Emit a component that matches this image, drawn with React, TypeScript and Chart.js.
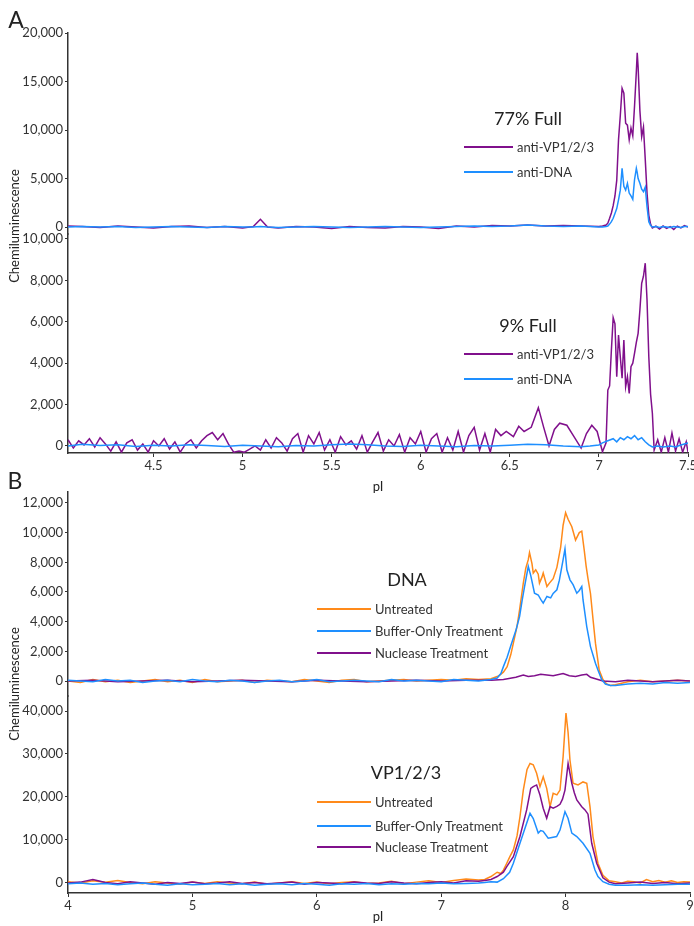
import React, { useEffect, useRef } from "react";
import { Chart, registerables } from "chart.js";

Chart.register(...registerables);

const FONT = "Lato, 'Noto Sans', sans-serif";
const PURPLE = "#80108c";
const BLUE = "#1e8fff";
const ORANGE = "#ff8a1a";
const AXIS = "#333333";
const W = 694;
const H = 926;
const X_AXIS_H = 22;

// ---------- Panel A (top): 77% Full ----------
const aTopX = [4.02, 4.1, 4.2, 4.3, 4.4, 4.5, 4.6, 4.7, 4.8, 4.9, 5.0, 5.06, 5.1, 5.14, 5.2, 5.3, 5.4, 5.5, 5.6, 5.7, 5.8, 5.9, 6.0, 6.1, 6.2, 6.3, 6.4, 6.5, 6.6, 6.7, 6.8, 6.9, 7.0,
  7.02, 7.04, 7.05, 7.06, 7.07, 7.08, 7.09, 7.10, 7.11, 7.12, 7.13, 7.14, 7.15, 7.16, 7.17, 7.18, 7.19, 7.20, 7.21, 7.215, 7.22, 7.23, 7.24, 7.25, 7.26, 7.27, 7.28, 7.29, 7.30, 7.32, 7.34, 7.36, 7.38, 7.40, 7.42, 7.44, 7.46, 7.48, 7.50];
const aTopVp = [100, 50, -50, 100, 0, -100, 50, 100, -50, 50, -100, 50, 800, 0, -100, 50, 0, -150, 50, -50, -100, 50, 0, -150, 100, 0, 150, 100, 200, 100, 150, 100, 50,
  100, 200, 400, 900, 1440, 2200, 3200, 4800, 9000, 11500, 14300, 13800, 10700, 10500, 9000, 10200, 9400, 12500, 16000, 17970, 16500, 12000, 9300, 10300, 7000, 3500, 1200, 300, -100, 100, -200, 100, -150, 50, -250, 100, -100, 150, 0];
const aTopDna = [0, 50, 0, 50, -50, 0, 50, 0, -50, 50, 0, 0, 50, 0, -50, 0, 50, 0, -50, 0, 50, 0, -50, 0, 50, 100, 50, 100, 200, 100, 50, 100, 0,
  0, 50, 100, 300, 550, 900, 1400, 1900, 2800, 3800, 6050, 4200, 3800, 4500, 3500, 3200, 2850, 4900, 6050, 5600, 5000, 4500, 3900, 3650, 4100, 2100, 550, 150, 0, 50, -50, 50, 0, -50, 50, 0, -50, 50, 50];

// ---------- Panel A (bottom): 9% Full ----------
const aBotVpX = [4.02, 4.05, 4.08, 4.11, 4.14, 4.17, 4.20, 4.23, 4.26, 4.29, 4.32, 4.35, 4.38, 4.41, 4.44, 4.47, 4.50, 4.53, 4.56, 4.59,
  4.62, 4.65, 4.68, 4.71, 4.74, 4.77, 4.80, 4.83, 4.86, 4.89, 4.92, 4.95, 4.98, 5.01, 5.04, 5.07, 5.10, 5.13, 5.16, 5.19,
  5.22, 5.25, 5.28, 5.31, 5.34, 5.37, 5.40, 5.43, 5.46, 5.49, 5.52, 5.55, 5.58, 5.61, 5.64, 5.67, 5.70, 5.73, 5.76, 5.79,
  5.82, 5.85, 5.88, 5.91, 5.94, 5.97, 6.00, 6.03, 6.06, 6.09, 6.12, 6.15, 6.18, 6.21, 6.24, 6.27, 6.30, 6.33, 6.36, 6.39,
  6.42, 6.45, 6.48, 6.52, 6.55, 6.58, 6.62, 6.66, 6.69, 6.72, 6.75, 6.78, 6.82, 6.86, 6.90, 6.93, 6.96, 6.99, 7.02,
  7.04, 7.05, 7.06, 7.07, 7.08, 7.09, 7.10, 7.11, 7.12, 7.13, 7.14, 7.15, 7.16, 7.17, 7.18, 7.19, 7.20, 7.21, 7.22, 7.23, 7.24, 7.25, 7.26, 7.27, 7.28, 7.29, 7.30, 7.31,
  7.33, 7.35, 7.37, 7.39, 7.41, 7.43, 7.45, 7.47, 7.49, 7.50];
const aBotVp = [300, -100, 250, 50, 350, -50, 400, 100, -250, 200, -300, 150, 300, -200, 100, -300, 250, 0, 350, -150,
  200, -300, 100, 300, -100, 250, 500, 650, 300, 600, 100, -300, -250, -300, -150, 0, -200, 300, -100, 400,
  150, -250, 350, 600, -300, 500, 100, 650, -200, 300, -300, 450, 50, 250, -150, 500, -300, 200, 650, -250,
  300, 0, 550, -300, 400, 100, 700, -300, 350, 600, -300, 400, -200, 700, -300, 500, 900, -200, 600, -300,
  800, 500, 700, 450, 950, 700, 900, 1850, 900, 0, 800, 1100, 1000, 450, -100, 600, 1000, 700, -280,
  150, 2700, 2900, 4640, 6200, 5900, 3350, 5360, 4300, 3270, 5120, 2860, 3350, 2540, 3830, 4000, 4480, 5000, 5440, 6570, 7860, 8200, 8830, 7050, 4310, 2500, 1580, -200,
  300, -300, 400, -300, 630, -250, 350, -300, 200, -300];
const aBotDnaX = [4.02, 4.1, 4.2, 4.3, 4.4, 4.5, 4.6, 4.7, 4.8, 4.9, 5.0, 5.1, 5.2, 5.3, 5.4, 5.5, 5.6, 5.7, 5.8, 5.9, 6.0, 6.1, 6.2, 6.3, 6.4, 6.5, 6.6, 6.7, 6.8, 6.9,
  6.95, 7.0, 7.02, 7.05, 7.08, 7.1, 7.12, 7.14, 7.16, 7.18, 7.2, 7.22, 7.24, 7.26, 7.28, 7.3, 7.33, 7.36, 7.4, 7.43, 7.46, 7.5];
const aBotDna = [0, 80, 20, 60, -20, 40, 0, 60, 20, -20, 40, 0, -40, 20, 0, 60, 100, 60, 0, -20, 40, 0, -40, 20, 0, 40, 80, 60, 0, -40,
  0, 50, 150, 250, 350, 200, 400, 300, 450, 350, 500, 300, 400, 200, 50, -50, 0, -50, 0, -50, 50, 150];

// ---------- Panel B (top): DNA ----------
const bTopUntX = [4.0, 4.1, 4.2, 4.3, 4.4, 4.5, 4.6, 4.7, 4.8, 4.9, 5.0, 5.1, 5.2, 5.3, 5.4, 5.5, 5.6, 5.7, 5.8, 5.9, 6.0, 6.1, 6.2, 6.3, 6.4, 6.5, 6.6, 6.7, 6.8, 6.9, 7.0, 7.1, 7.2, 7.3, 7.4,
  7.45, 7.47, 7.50, 7.53, 7.56, 7.58, 7.61, 7.63, 7.66, 7.68, 7.70, 7.71, 7.73, 7.74, 7.76, 7.78, 7.79, 7.81, 7.82, 7.85, 7.87, 7.90, 7.93, 7.96, 7.98,
  8.00, 8.02, 8.05, 8.08, 8.11, 8.13, 8.15, 8.165, 8.18, 8.20, 8.22, 8.24, 8.27, 8.30, 8.33, 8.36, 8.40, 8.45, 8.50, 8.60, 8.70, 8.80, 8.90, 9.00];
const bTopUnt = [0, -100, 100, -50, 50, -100, 0, 100, -50, 50, -100, 100, -50, 0, 50, -100, 50, 0, -50, 100, 0, -100, 50, 100, -50, 0, 50, 100, 0, 50, 100, 50, 150, 100, 150,
  300, 400, 600, 970, 1800, 2550, 3700, 4800, 6600, 7600, 8180, 8650, 7900, 7280, 7500, 7200, 6600, 7000, 7280, 6370, 6600, 6900, 7660, 9000, 10500,
  11350, 10900, 10400, 9500, 10000, 10100, 8800, 7750, 6900, 5900, 4200, 2550, 740, 100, -200, -300, -250, -150, -50, 50, -50, 0, 50, 0];
const bTopBufX = [4.0, 4.1, 4.2, 4.3, 4.4, 4.5, 4.6, 4.7, 4.8, 4.9, 5.0, 5.1, 5.2, 5.3, 5.4, 5.5, 5.6, 5.7, 5.8, 5.9, 6.0, 6.1, 6.2, 6.3, 6.4, 6.5, 6.6, 6.7, 6.8, 6.9, 7.0, 7.1, 7.2, 7.3, 7.4,
  7.45, 7.48, 7.50, 7.53, 7.56, 7.60, 7.63, 7.65, 7.67, 7.70, 7.72, 7.75, 7.78, 7.80, 7.82, 7.85, 7.88, 7.90, 7.93, 7.95, 7.98, 7.995,
  8.01, 8.035, 8.06, 8.09, 8.11, 8.13, 8.14, 8.17, 8.20, 8.24, 8.26, 8.29, 8.32, 8.36, 8.40, 8.45, 8.50, 8.60, 8.70, 8.80, 8.90, 9.00];
const bTopBuf = [50, 0, -50, 100, 0, 50, -100, 0, 50, -50, 100, 0, -50, 50, 0, -100, 0, 50, -50, 0, 100, -50, 0, 50, 0, -50, 100, 0, 50, 0, -50, 100, 50, 0, 100,
  200, 500, 970, 1600, 2400, 3400, 4350, 5400, 6370, 7720, 7100, 5920, 5800, 5500, 5250, 5700, 5600, 5900, 6150, 6800, 8180, 8900,
  7500, 6820, 6500, 5920, 6100, 6370, 5480, 3670, 2320, 1200, 740, 100, -200, -300, -300, -250, -200, -150, -200, -100, -150, -100];
const bTopNucX = [4.0, 4.2, 4.4, 4.6, 4.8, 5.0, 5.2, 5.4, 5.6, 5.8, 6.0, 6.2, 6.4, 6.6, 6.8, 7.0, 7.2, 7.4, 7.5, 7.6, 7.66, 7.7, 7.75, 7.8, 7.85, 7.9, 7.98,
  8.03, 8.08, 8.13, 8.17, 8.2, 8.26, 8.3, 8.4, 8.5, 8.6, 8.7, 8.8, 8.9, 9.0];
const bTopNuc = [0, 50, -50, 0, 50, -50, 0, 50, 0, -50, 50, 0, -50, 0, 50, 0, 50, 50, 100, 250, 400, 300, 350, 450, 400, 350, 500,
  350, 300, 400, 450, 250, 100, 0, -50, 50, 0, -50, 0, 50, 0];

// ---------- Panel B (bottom): VP1/2/3 ----------
const bBotUntX = [4.0, 4.1, 4.2, 4.3, 4.4, 4.5, 4.6, 4.7, 4.8, 4.9, 5.0, 5.1, 5.2, 5.3, 5.4, 5.5, 5.6, 5.7, 5.8, 5.9, 6.0, 6.1, 6.2, 6.3, 6.4, 6.5, 6.6, 6.7, 6.8, 6.9, 7.0, 7.1, 7.2, 7.3,
  7.35, 7.40, 7.45, 7.48, 7.50, 7.527, 7.55, 7.58, 7.61, 7.633, 7.66, 7.69, 7.714, 7.74, 7.767, 7.794, 7.82, 7.848, 7.875, 7.90, 7.93, 7.955, 7.98,
  8.003, 8.02, 8.035, 8.06, 8.10, 8.14, 8.17, 8.196, 8.22, 8.26, 8.30, 8.35, 8.40, 8.45, 8.50, 8.55, 8.60, 8.65, 8.70, 8.75, 8.80, 8.85, 8.90, 8.95, 9.00];
const bBotUnt = [300, 0, 500, 200, 600, 100, -200, 300, 0, -300, 200, -100, 300, 0, -200, 200, -300, 0, 300, -100, 200, -200, 100, 300, -100, 0, 400, -200, 200, 500, 100, 600, 900, 700,
  800, 1500, 2500, 2200, 3000, 4600, 6000, 7700, 11000, 15400, 21600, 26400, 27800, 27500, 25500, 22400, 24700, 22000, 17750, 20860, 20500, 21600, 29400,
  39500, 35000, 28600, 23200, 22800, 23500, 23200, 17750, 10800, 4600, 1800, 500, 300, 0, 400, 300, 0, 800, 300, 600, 200, 500, 100, 300, 200];
const bBotBufX = [4.0, 4.1, 4.2, 4.3, 4.4, 4.5, 4.6, 4.7, 4.8, 4.9, 5.0, 5.1, 5.2, 5.3, 5.4, 5.5, 5.6, 5.7, 5.8, 5.9, 6.0, 6.1, 6.2, 6.3, 6.4, 6.5, 6.6, 6.7, 6.8, 6.9, 7.0, 7.1, 7.2, 7.3,
  7.35, 7.40, 7.45, 7.50, 7.55, 7.58, 7.633, 7.687, 7.714, 7.74, 7.78, 7.80, 7.82, 7.86, 7.89, 7.928, 7.955, 7.995,
  8.02, 8.05, 8.09, 8.14, 8.196, 8.236, 8.26, 8.30, 8.35, 8.40, 8.50, 8.60, 8.70, 8.80, 8.90, 9.00];
const bBotBuf = [-200, 0, -300, -100, -400, -200, 0, -300, -500, -200, -400, -300, -100, -400, -200, -500, -300, -200, -400, -100, -300, -500, -200, -300, -100, -400, -200, -300, -100, -200, 0, -200, -100, 0,
  100, 300, 200, 1000, 2500, 4600, 9230, 13900, 16200, 15000, 11600, 12200, 12000, 10400, 10600, 10800, 12300, 16600,
  15000, 11600, 10800, 9230, 6900, 3000, 1500, 300, -300, -500, -500, -400, -500, -400, -300, -300];
const bBotNucX = [4.0, 4.1, 4.2, 4.3, 4.4, 4.5, 4.6, 4.7, 4.8, 4.9, 5.0, 5.1, 5.2, 5.3, 5.4, 5.5, 5.6, 5.7, 5.8, 5.9, 6.0, 6.1, 6.2, 6.3, 6.4, 6.5, 6.6, 6.7, 6.8, 6.9, 7.0, 7.1, 7.2, 7.3,
  7.35, 7.40, 7.45, 7.50, 7.527, 7.58, 7.633, 7.687, 7.72, 7.74, 7.767, 7.794, 7.82, 7.848, 7.875, 7.90, 7.93, 7.955, 7.975, 7.995,
  8.02, 8.05, 8.07, 8.09, 8.13, 8.156, 8.18, 8.21, 8.25, 8.30, 8.35, 8.40, 8.50, 8.60, 8.70, 8.80, 8.90, 9.00];
const bBotNuc = [0, 200, 800, 100, -200, 300, 0, -300, 100, -100, 200, -200, 0, 300, -100, 100, -200, 0, 200, -300, 100, 0, -200, 200, 0, -100, 300, 0, -200, 100, 300, 0, 500, 400,
  600, 800, 1500, 2500, 3800, 6100, 10800, 17000, 22000, 22400, 22800, 20460, 17370, 15040, 17750, 17400, 17800, 18300, 19500, 21600,
  27800, 23200, 21000, 19300, 17750, 17000, 16000, 9230, 4600, 1200, 200, -200, 0, 200, -100, 100, -200, 0];

// ---------- Ticks ----------
const aXTicks = [4.5, 5, 5.5, 6, 6.5, 7, 7.5];
const bXTicks = [4, 5, 6, 7, 8, 9];
const aTopYTicks = [0, 5000, 10000, 15000, 20000];
const aBotYTicks = [0, 2000, 4000, 6000, 8000, 10000];
const bTopYTicks = [0, 2000, 4000, 6000, 8000, 10000, 12000];
const bBotYTicks = [0, 10000, 20000, 30000, 40000];

type Series = { xs: number[]; ys: number[]; color: string };
type Panel = {
  xMin: number; xMax: number; yMin: number; yMax: number;
  yTicks: number[]; xTicks: number[] | null;
  top: number; bottom: number; right: number;
  series: Series[];
};

const panels: Panel[] = [
  { xMin: 4.02, xMax: 7.5, yMin: -720, yMax: 20000, yTicks: aTopYTicks, xTicks: null, top: 33, bottom: 234, right: 688,
    series: [{ xs: aTopX, ys: aTopVp, color: PURPLE }, { xs: aTopX, ys: aTopDna, color: BLUE }] },
  { xMin: 4.02, xMax: 7.5, yMin: -340, yMax: 10240, yTicks: aBotYTicks, xTicks: aXTicks, top: 234, bottom: 453, right: 688,
    series: [{ xs: aBotVpX, ys: aBotVp, color: PURPLE }, { xs: aBotDnaX, ys: aBotDna, color: BLUE }] },
  { xMin: 4, xMax: 9, yMin: -1010, yMax: 12740, yTicks: bTopYTicks, xTicks: null, top: 492, bottom: 696, right: 690,
    series: [{ xs: bTopUntX, ys: bTopUnt, color: ORANGE }, { xs: bTopNucX, ys: bTopNuc, color: PURPLE }, { xs: bTopBufX, ys: bTopBuf, color: BLUE }] },
  { xMin: 4, xMax: 9, yMin: -2330, yMax: 43490, yTicks: bBotYTicks, xTicks: bXTicks, top: 696, bottom: 893, right: 690,
    series: [{ xs: bBotUntX, ys: bBotUnt, color: ORANGE }, { xs: bBotNucX, ys: bBotNuc, color: PURPLE }, { xs: bBotBufX, ys: bBotBuf, color: BLUE }] },
];

function buildConfig(p: Panel): any {
  const n = p.series.length;
  const tickFont = { family: FONT, size: 13 };
  return {
    type: "line",
    data: {
      datasets: p.series.map((s, i) => ({
        data: s.xs.map((x, j) => ({ x, y: s.ys[j] })),
        borderColor: s.color,
        backgroundColor: s.color,
        borderWidth: 1.5,
        pointRadius: 0,
        tension: 0,
        fill: false,
        order: n - i,
      })),
    },
    options: {
      animation: false,
      responsive: false,
      maintainAspectRatio: false,
      events: [],
      layout: {
        padding: {
          left: 0,
          top: p.top,
          right: W - p.right,
          bottom: p.xTicks ? H - p.bottom - X_AXIS_H : H - p.bottom,
        },
      },
      plugins: { legend: { display: false }, tooltip: { enabled: false }, title: { display: false } },
      scales: {
        x: {
          type: "linear",
          min: p.xMin,
          max: p.xMax,
          display: !!p.xTicks,
          afterBuildTicks: (s: any) => {
            if (p.xTicks) s.ticks = p.xTicks.map((v) => ({ value: v }));
          },
          afterFit: (s: any) => {
            if (p.xTicks) s.height = X_AXIS_H;
            s.paddingLeft = 0;
            s.paddingRight = 0;
          },
          ticks: {
            font: tickFont,
            color: AXIS,
            padding: 1,
            autoSkip: false,
            maxRotation: 0,
            callback: (v: any) => String(v),
          },
          grid: { drawOnChartArea: false, drawTicks: true, tickLength: 4, color: AXIS, lineWidth: 1 },
          border: { display: true, color: AXIS, width: 1.5 },
        },
        y: {
          type: "linear",
          min: p.yMin,
          max: p.yMax,
          afterBuildTicks: (s: any) => {
            s.ticks = p.yTicks.map((v) => ({ value: v }));
          },
          afterFit: (s: any) => {
            s.width = 68;
            s.paddingTop = 0;
            s.paddingBottom = 0;
          },
          ticks: {
            font: tickFont,
            color: AXIS,
            padding: 2,
            autoSkip: false,
            callback: (v: any) => Number(v).toLocaleString("en-US"),
          },
          grid: { drawOnChartArea: false, drawTicks: true, tickLength: 3, color: AXIS, lineWidth: 1 },
          border: { display: true, color: AXIS, width: 1.5 },
        },
      },
    },
  };
}

const abs = (x: number, y: number, extra: any = {}): any => ({
  position: "absolute",
  left: x,
  top: y,
  whiteSpace: "nowrap",
  lineHeight: 1,
  ...extra,
});

function Centered({ x, y, size, children, rotate }: any) {
  return (
    <div
      style={abs(x, y, {
        fontSize: size,
        transform: `translate(-50%, -50%)${rotate ? " rotate(-90deg)" : ""}`,
        color: "#222",
      })}
    >
      {children}
    </div>
  );
}

function LegendItem({ x1, x2, tx, y, color, label }: any) {
  return (
    <>
      <div style={abs(x1, y - 1, { width: x2 - x1, height: 2, background: color })} />
      <div style={abs(tx, y, { fontSize: 13, transform: "translateY(-50%)", color: "#333" })}>{label}</div>
    </>
  );
}

export default function App() {
  const r0 = useRef<HTMLCanvasElement>(null);
  const r1 = useRef<HTMLCanvasElement>(null);
  const r2 = useRef<HTMLCanvasElement>(null);
  const r3 = useRef<HTMLCanvasElement>(null);
  const refs = [r0, r1, r2, r3];

  useEffect(() => {
    const charts = panels.map((p, i) => new Chart(refs[i].current as HTMLCanvasElement, buildConfig(p)));
    return () => charts.forEach((c) => c.destroy());
  }, []);

  return (
    <div style={{ position: "absolute", left: 0, top: 0, width: W, height: H, background: "#fff", fontFamily: FONT, overflow: "hidden" }}>
      {refs.map((r, i) => (
        <canvas key={i} ref={r} width={W} height={H} style={{ position: "absolute", left: 0, top: 0, width: W, height: H }} />
      ))}
      <Centered x={16} y={19} size={23}>A</Centered>
      <Centered x={15} y={480} size={23}>B</Centered>
      <Centered x={14} y={226} size={13} rotate>Chemiluminescence</Centered>
      <Centered x={14} y={684} size={13} rotate>Chemiluminescence</Centered>
      <Centered x={378} y={486} size={13}>pI</Centered>
      <Centered x={378} y={916} size={13}>pI</Centered>

      <Centered x={528} y={118} size={18}>77% Full</Centered>
      <LegendItem x1={464} x2={513} tx={517} y={147} color={PURPLE} label="anti-VP1/2/3" />
      <LegendItem x1={464} x2={513} tx={517} y={172} color={BLUE} label="anti-DNA" />

      <Centered x={528} y={325} size={18}>9% Full</Centered>
      <LegendItem x1={464} x2={513} tx={517} y={354} color={PURPLE} label="anti-VP1/2/3" />
      <LegendItem x1={464} x2={513} tx={517} y={379} color={BLUE} label="anti-DNA" />

      <Centered x={407} y={579} size={18}>DNA</Centered>
      <LegendItem x1={317} x2={371} tx={375} y={609} color={ORANGE} label="Untreated" />
      <LegendItem x1={317} x2={371} tx={375} y={631} color={BLUE} label="Buffer-Only Treatment" />
      <LegendItem x1={317} x2={371} tx={375} y={653} color={PURPLE} label="Nuclease Treatment" />

      <Centered x={406} y={772} size={18}>VP1/2/3</Centered>
      <LegendItem x1={317} x2={371} tx={375} y={802} color={ORANGE} label="Untreated" />
      <LegendItem x1={317} x2={371} tx={375} y={826} color={BLUE} label="Buffer-Only Treatment" />
      <LegendItem x1={317} x2={371} tx={375} y={847} color={PURPLE} label="Nuclease Treatment" />
    </div>
  );
}
